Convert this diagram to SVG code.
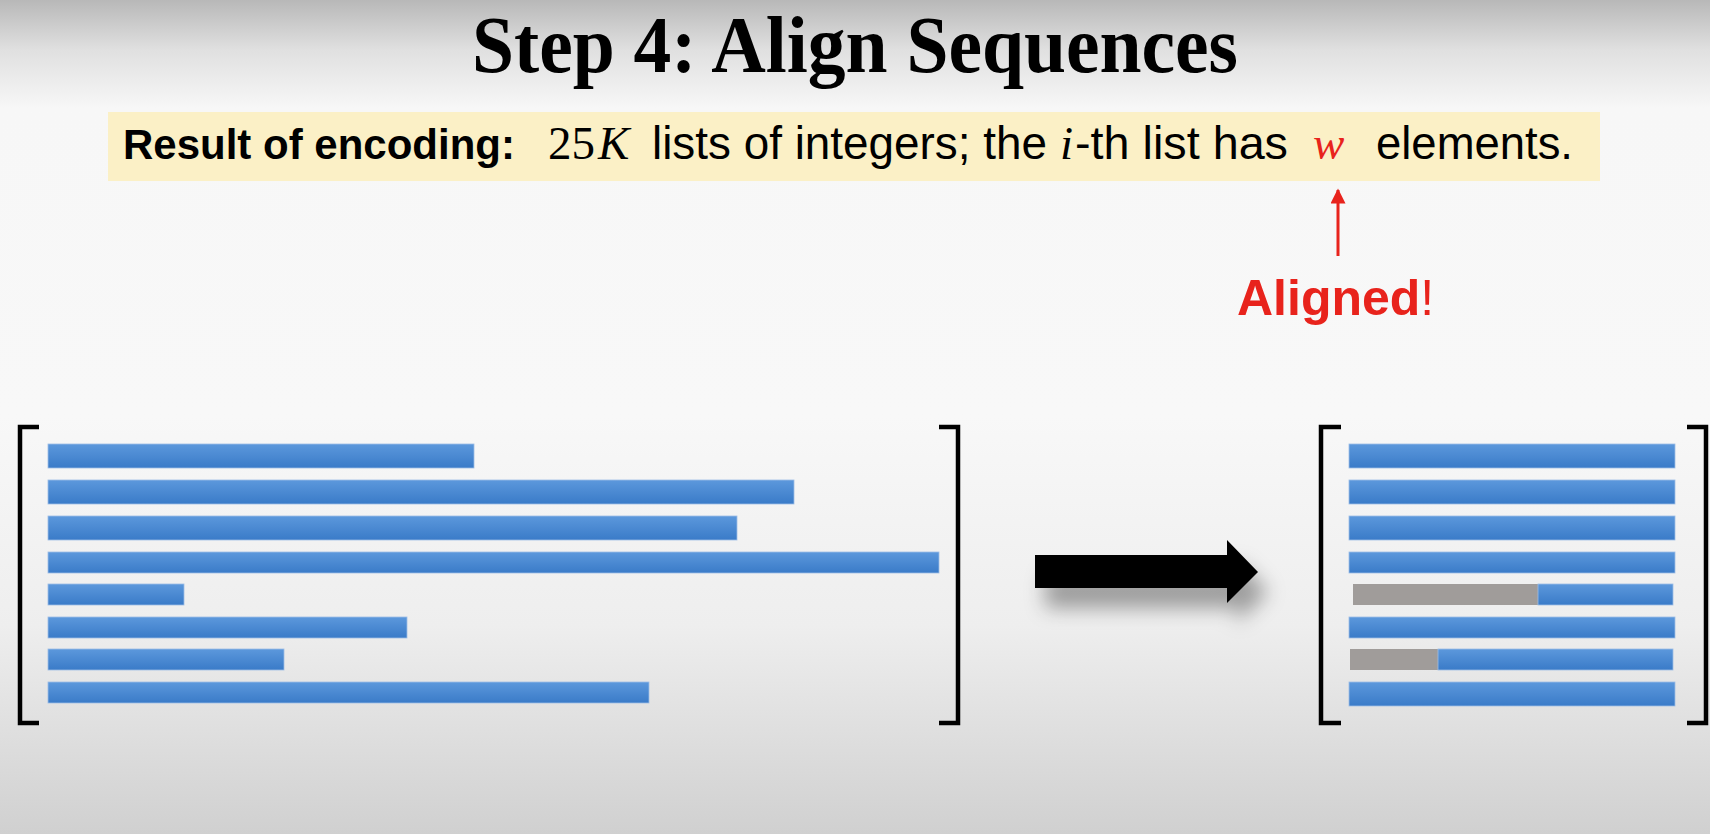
<svg xmlns="http://www.w3.org/2000/svg" width="1710" height="834" viewBox="0 0 1710 834">
  <defs>
    <linearGradient id="bg" x1="0" y1="0" x2="0" y2="1">
      <stop offset="0" stop-color="#b8b8b8"/>
      <stop offset="0.06" stop-color="#e0e0e0"/>
      <stop offset="0.13" stop-color="#f7f7f7"/>
      <stop offset="0.5" stop-color="#f8f8f8"/>
      <stop offset="0.75" stop-color="#eeeeee"/>
      <stop offset="1" stop-color="#d0d0d0"/>
    </linearGradient>
    <linearGradient id="barFill" x1="0" y1="0" x2="0" y2="1">
      <stop offset="0" stop-color="#5c98dc"/>
      <stop offset="1" stop-color="#3a7bc8"/>
    </linearGradient>
    <filter id="shadow" x="-20%" y="-60%" width="150%" height="280%">
      <feDropShadow dx="10" dy="20" stdDeviation="10" flood-color="#000" flood-opacity="0.35"/>
    </filter>
    <marker id="redHead" viewBox="0 0 10 10" refX="9" refY="5" markerWidth="7" markerHeight="5" orient="auto" markerUnits="strokeWidth">
      <path d="M0,0 L10,5 L0,10 z" fill="#e8231c"/>
    </marker>
  </defs>
  <style>
    .title { font-family: "Liberation Serif", "DejaVu Serif", serif; font-weight: bold; font-size: 80px; fill: #000; }
    .sans { font-family: "Liberation Sans", Arial, sans-serif; font-size: 45.5px; fill: #000; }
    .bold { font-weight: bold; font-size: 43px; }
    .math { font-family: "Liberation Serif", "DejaVu Serif", serif; font-size: 47px; fill: #000; }
    .it { font-style: italic; }
    .red { fill: #e8231c; }
    .bar { fill: url(#barFill); stroke: #9dbde6; stroke-width: 0.8; }
    .pad { fill: #a09c9a; }
    .bracket { fill: none; stroke: #000; stroke-width: 4.5; stroke-linejoin: miter; }
    .aligned { font-family: "Liberation Sans", Arial, sans-serif; font-size: 50px; fill: #e8231c; }
  </style>

  <!-- page background -->
  <rect x="0" y="0" width="1710" height="834" fill="url(#bg)"/>

  <g id="title">
    <text class="title" x="472" y="72" textLength="766" lengthAdjust="spacingAndGlyphs">Step 4: Align Sequences</text>
  </g>

  <g id="banner">
    <rect x="108" y="112" width="1492" height="69" fill="#fbf0c6"/>
    <text class="sans bold" x="123" y="159" textLength="392" lengthAdjust="spacingAndGlyphs">Result of encoding:</text>
    <text class="math" x="548" y="159">25</text>
    <text class="math it" x="598" y="159">K</text>
    <text class="sans" x="652" y="159" textLength="395" lengthAdjust="spacingAndGlyphs">lists of integers; the</text>
    <text class="math it" x="1060" y="159">i</text>
    <text class="sans" x="1075" y="159" textLength="213" lengthAdjust="spacingAndGlyphs">-th list has</text>
    <text class="math it red" x="1313" y="159" font-size="49">w</text>
    <text class="sans" x="1376" y="159" textLength="197" lengthAdjust="spacingAndGlyphs">elements.</text>
  </g>

  <g id="aligned-label">
    <text class="aligned" x="1237" y="315"><tspan font-weight="bold">Aligned</tspan>!</text>
  </g>

  <g id="matrix-unaligned">
    <path class="bracket" d="M39,427 H20 V723 H39"/>
    <path class="bracket" d="M939,427 H958 V723 H939"/>
    <rect class="bar" x="48" y="444" width="426" height="24"/>
    <rect class="bar" x="48" y="480" width="746" height="24"/>
    <rect class="bar" x="48" y="516" width="689" height="24"/>
    <rect class="bar" x="48" y="552" width="891" height="21"/>
    <rect class="bar" x="48" y="584" width="136" height="21"/>
    <rect class="bar" x="48" y="617" width="359" height="21"/>
    <rect class="bar" x="48" y="649" width="236" height="21"/>
    <rect class="bar" x="48" y="682" width="601" height="21"/>
  </g>

  <g id="matrix-aligned">
    <path class="bracket" d="M1341,427 H1321 V723 H1341"/>
    <path class="bracket" d="M1687,427 H1706 V723 H1687"/>
    <rect class="bar" x="1349" y="444" width="326" height="24"/>
    <rect class="bar" x="1349" y="480" width="326" height="24"/>
    <rect class="bar" x="1349" y="516" width="326" height="24"/>
    <rect class="bar" x="1349" y="552" width="326" height="21"/>
    <rect class="pad" x="1353" y="584" width="185" height="21"/>
    <rect class="bar" x="1538" y="584" width="135" height="21"/>
    <rect class="bar" x="1349" y="617" width="326" height="21"/>
    <rect class="pad" x="1350" y="649" width="88" height="21"/>
    <rect class="bar" x="1438" y="649" width="235" height="21"/>
    <rect class="bar" x="1349" y="682" width="326" height="24"/>
  </g>

  <g id="connectors">
    <!-- red pointer from the label up to w -->
    <line x1="1338" y1="256" x2="1338" y2="190" stroke="#e8231c" stroke-width="3" marker-end="url(#redHead)"/>
    <!-- block arrow between the two matrices -->
    <path d="M1035,555 H1227 V540 L1258,572 L1227,603 V588 H1035 Z" fill="#000" filter="url(#shadow)"/>
  </g>
</svg>
